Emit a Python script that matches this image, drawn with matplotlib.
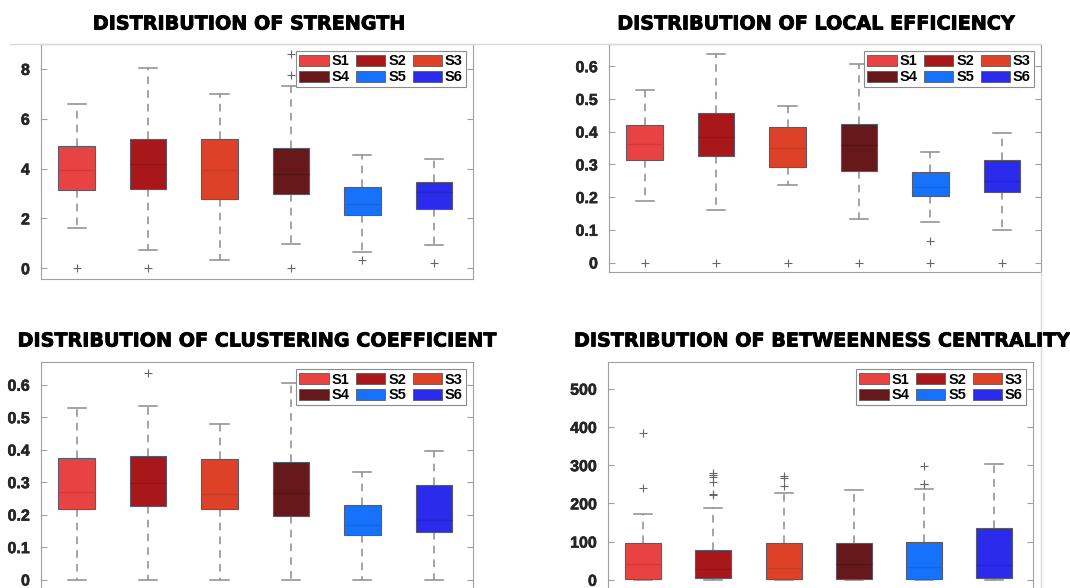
import matplotlib
matplotlib.use("Agg")
import matplotlib.pyplot as plt
from matplotlib.patches import Patch
from matplotlib.lines import Line2D
import matplotlib.patheffects as pe

groups = ["S1", "S2", "S3", "S4", "S5", "S6"]
colors = ["#E84343", "#A8181A", "#DD4229", "#66181A", "#1672FA", "#2B2BEB"]
median_colors = ["#D63636", "#961416", "#C93A24", "#561416", "#1466E0", "#2424D0"]

# ---- Strength ----
strength_low = [1.60, 0.74, 0.32, 0.98, 0.64, 0.92]
strength_q1 = [3.14, 3.18, 2.79, 2.98, 2.12, 2.37]
strength_med = [3.94, 4.18, 3.94, 3.77, 2.59, 3.07]
strength_q3 = [4.92, 5.20, 5.19, 4.81, 3.27, 3.46]
strength_high = [6.60, 8.03, 7.00, 7.32, 4.54, 4.40]
strength_fliers = [[0.0], [0.0], [], [0.0, 7.77, 8.58], [0.32], [0.23]]
strength_ticks = [0, 2, 4, 6, 8]
strength_ticklabels = ["0", "2", "4", "6", "8"]

# ---- Local efficiency ----
leff_low = [0.187, 0.162, 0.236, 0.134, 0.124, 0.098]
leff_q1 = [0.312, 0.326, 0.292, 0.281, 0.204, 0.217]
leff_med = [0.361, 0.383, 0.349, 0.358, 0.231, 0.248]
leff_q3 = [0.419, 0.456, 0.413, 0.422, 0.278, 0.313]
leff_high = [0.527, 0.637, 0.478, 0.606, 0.337, 0.395]
leff_fliers = [[0.0], [0.0], [0.0], [0.0], [0.0, 0.067], [0.0]]
frac_ticks = [0, 0.1, 0.2, 0.3, 0.4, 0.5, 0.6]
frac_ticklabels = ["0", "0.1", "0.2", "0.3", "0.4", "0.5", "0.6"]

# ---- Clustering coefficient ----
clus_low = [0.0, 0.0, 0.0, 0.0, 0.0, 0.0]
clus_q1 = [0.216, 0.228, 0.216, 0.196, 0.137, 0.148]
clus_med = [0.271, 0.297, 0.262, 0.266, 0.168, 0.185]
clus_q3 = [0.373, 0.382, 0.370, 0.361, 0.229, 0.291]
clus_high = [0.527, 0.536, 0.478, 0.605, 0.332, 0.396]
clus_fliers = [[], [0.637], [], [], [], []]

# ---- Betweenness centrality ----
betw_low = [0, 0, 0, 0, 0, 0]
betw_q1 = [1.7, 3.5, 1.7, 1.7, 1.7, 4.3]
betw_med = [41, 29, 31, 42, 34, 38]
betw_q3 = [95.7, 78, 96.5, 96.5, 98, 135]
betw_high = [171, 187, 226, 234, 237, 302]
betw_fliers = [[239, 383], [222, 225, 255, 268, 275, 280], [246, 267, 271], [], [250, 252, 297], []]
betw_ticks = [0, 100, 200, 300, 400, 500]
betw_ticklabels = ["0", "100", "200", "300", "400", "500"]

W, H = 1070, 588
fig = plt.figure(figsize=(W / 100, H / 100), dpi=100)
fig.patch.set_facecolor("white")

def px_axes(l, t, r, b):
    return fig.add_axes([l / W, 1 - b / H, (r - l) / W, (b - t) / H])

def stats(low, q1, med, q3, high, fliers):
    return [dict(whislo=low[i], q1=q1[i], med=med[i], q3=q3[i], whishi=high[i],
                 fliers=fliers[i], label=groups[i]) for i in range(len(groups))]

spine_col = "#A0A0A0"
whisk_col = "#8C8C8C"
bold_fx = [pe.withStroke(linewidth=0.6, foreground="#000000")]

def panel(ax, st, ylim, ticks, ticklabels, title, title_xy):
    bp = ax.bxp(st, positions=range(1, 7), widths=0.51, patch_artist=True,
                showfliers=True, manage_ticks=False,
                whiskerprops=dict(color=whisk_col, linestyle=(0, (5, 4)), linewidth=1.1),
                capprops=dict(color=whisk_col, linewidth=1.1),
                flierprops=dict(marker="+", markeredgecolor="#666666", markersize=6,
                                markeredgewidth=0.8, linestyle="none"),
                medianprops=dict(linewidth=1.0))
    for i, box in enumerate(bp["boxes"]):
        box.set_facecolor(colors[i])
        box.set_edgecolor("#5A5A6A")
        box.set_linewidth(0.8)
        box.set_zorder(3)
    for i, m in enumerate(bp["medians"]):
        m.set_color(median_colors[i])
        m.set_zorder(4)
    ax.set_xlim(0.5, 6.55)
    ax.set_ylim(*ylim)
    ax.set_xticks([])
    ax.set_yticks(ticks)
    ax.set_yticklabels(ticklabels)
    ax.tick_params(axis="y", direction="in", left=True, right=True, length=4,
                   color=spine_col, width=0.8, pad=8, labelsize=11.5,
                   labelcolor="#262626")
    for lab in ax.get_yticklabels():
        lab.set_fontweight("bold")
        lab.set_family("Liberation Sans")
        lab.set_path_effects([pe.withStroke(linewidth=0.4, foreground="#262626")])
    for s in ax.spines.values():
        s.set_color(spine_col)
        s.set_linewidth(0.8)
    order = [0, 3, 1, 4, 2, 5]  # row-wise fill: S1 S2 S3 / S4 S5 S6
    handles = [Patch(facecolor=colors[i], edgecolor="#5A5A5A", linewidth=0.6, label=groups[i])
               for i in order]
    leg = ax.legend(handles=handles, ncol=3, loc="upper right",
                    prop=dict(family="Liberation Sans", weight="bold", size=10.5),
                    handlelength=2.0, handleheight=0.8, handletextpad=0.2,
                    columnspacing=0.45, labelspacing=0.12, borderpad=0.22,
                    borderaxespad=0.5, fancybox=False, framealpha=1,
                    edgecolor="#8C8C8C")
    leg.get_frame().set_linewidth(0.8)
    leg.set_zorder(10)
    fig.text(title_xy[0] / W, 1 - title_xy[1] / H, title, ha="center", va="center",
             fontsize=13.8, fontweight="bold", family="DejaVu Sans", color="#000000",
             path_effects=bold_fx)

ax1 = px_axes(41, 44, 473, 279)
panel(ax1, stats(strength_low, strength_q1, strength_med, strength_q3, strength_high, strength_fliers),
      (-0.43, 9.0), strength_ticks, strength_ticklabels, "DISTRIBUTION OF STRENGTH", (249, 24))

ax2 = px_axes(609, 44, 1041, 272)
panel(ax2, stats(leff_low, leff_q1, leff_med, leff_q3, leff_high, leff_fliers),
      (-0.029, 0.668), frac_ticks, frac_ticklabels, "DISTRIBUTION OF LOCAL EFFICIENCY", (816, 24))

ax3 = px_axes(41, 362, 473, 589)
panel(ax3, stats(clus_low, clus_q1, clus_med, clus_q3, clus_high, clus_fliers),
      (-0.029, 0.67), frac_ticks, frac_ticklabels, "DISTRIBUTION OF CLUSTERING COEFFICIENT", (257, 341))

ax4 = px_axes(608, 362, 1033, 589)
panel(ax4, stats(betw_low, betw_q1, betw_med, betw_q3, betw_high, betw_fliers),
      (-24, 570), betw_ticks, betw_ticklabels, "DISTRIBUTION OF BETWEENNESS CENTRALITY", (822, 341))

# faint frame lines present in the source image
fig.add_artist(Line2D([10 / W, 1041 / W], [1 - 43.5 / H, 1 - 43.5 / H], color="#D8D8D8", linewidth=1))
fig.add_artist(Line2D([1041 / W, 1041 / W], [1 - 272 / H, 0], color="#D8D8D8", linewidth=1))

fig.savefig("out.png", dpi=100, facecolor="white")
